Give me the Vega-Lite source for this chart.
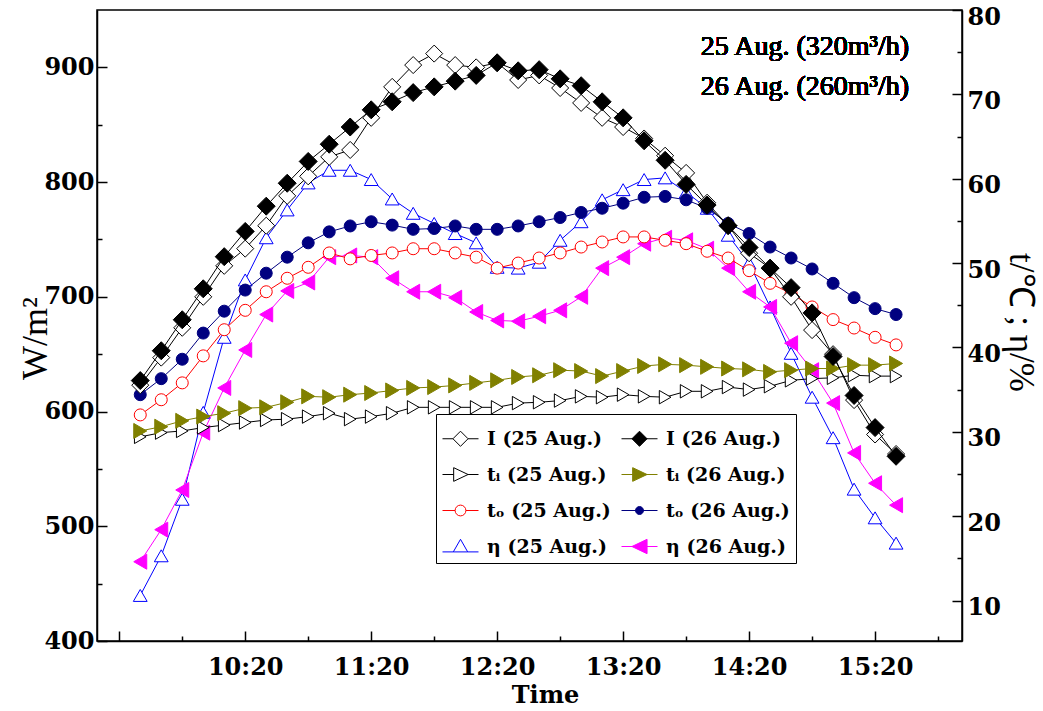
{
  "$schema": "https://vega.github.io/schema/vega-lite/v6.json",
  "autosize": {"type": "none"},
  "padding": {"left": 97, "top": 10, "right": 81, "bottom": 70},
  "width": 865,
  "height": 631,
  "background": "white",
  "config": {
    "view": {"stroke": "black", "strokeWidth": 1.5},
    "axis": {"grid": false, "domainColor": "black", "domainWidth": 1.5, "tickColor": "black", "tickWidth": 1.5, "labelColor": "black", "titleColor": "black", "labelFont": "DejaVu Serif", "labelFontWeight": "bold", "labelFontSize": 24, "labelFlush": false, "labelOverlap": false, "labelBound": false}
  },
  "datasets": {
    "main": [
      {"t":570,"I25":623,"I26":627,"ti25":29.4,"ti26":30.1,"to25":32.0,"to26":34.4,"e25":10.6,"e26":14.6},
      {"t":580,"I25":647,"I26":653,"ti25":29.9,"ti26":30.6,"to25":33.8,"to26":36.3,"e25":15.3,"e26":18.4},
      {"t":590,"I25":673,"I26":680,"ti25":30.1,"ti26":31.3,"to25":35.8,"to26":38.6,"e25":22.0,"e26":23.1},
      {"t":600,"I25":700,"I26":707,"ti25":30.5,"ti26":31.8,"to25":39.0,"to26":41.7,"e25":32.3,"e26":29.9},
      {"t":610,"I25":727,"I26":735,"ti25":30.8,"ti26":32.2,"to25":42.1,"to26":44.3,"e25":41.2,"e26":35.2},
      {"t":620,"I25":742,"I26":757,"ti25":31.1,"ti26":32.8,"to25":44.4,"to26":46.8,"e25":48.0,"e26":39.7},
      {"t":630,"I25":762,"I26":779,"ti25":31.4,"ti26":32.9,"to25":46.6,"to26":48.8,"e25":53.0,"e26":43.9},
      {"t":640,"I25":788,"I26":799,"ti25":31.5,"ti26":33.5,"to25":48.2,"to26":50.7,"e25":56.3,"e26":46.7},
      {"t":650,"I25":805,"I26":818,"ti25":31.8,"ti26":34.2,"to25":49.5,"to26":52.4,"e25":59.5,"e26":47.7},
      {"t":660,"I25":822,"I26":833,"ti25":32.2,"ti26":34.1,"to25":51.2,"to26":53.7,"e25":61.0,"e26":50.7},
      {"t":670,"I25":828,"I26":848,"ti25":31.5,"ti26":34.4,"to25":50.5,"to26":54.4,"e25":61.0,"e26":50.9},
      {"t":680,"I25":856,"I26":863,"ti25":31.8,"ti26":34.6,"to25":50.9,"to26":54.9,"e25":59.9,"e26":50.7},
      {"t":690,"I25":883,"I26":870,"ti25":32.2,"ti26":34.9,"to25":51.2,"to26":54.5,"e25":57.6,"e26":48.2},
      {"t":700,"I25":902,"I26":878,"ti25":32.9,"ti26":35.2,"to25":51.7,"to26":54.0,"e25":55.9,"e26":46.6},
      {"t":710,"I25":912,"I26":883,"ti25":32.9,"ti26":35.3,"to25":51.7,"to26":54.1,"e25":54.7,"e26":46.6},
      {"t":720,"I25":902,"I26":888,"ti25":32.9,"ti26":35.5,"to25":51.2,"to26":54.4,"e25":53.5,"e26":45.9},
      {"t":730,"I25":900,"I26":893,"ti25":32.9,"ti26":35.8,"to25":50.7,"to26":54.0,"e25":52.4,"e26":44.2},
      {"t":740,"I25":904,"I26":904,"ti25":32.9,"ti26":36.1,"to25":49.4,"to26":54.0,"e25":49.5,"e26":43.2},
      {"t":750,"I25":889,"I26":897,"ti25":33.4,"ti26":36.5,"to25":50.0,"to26":54.4,"e25":49.4,"e26":43.1},
      {"t":760,"I25":893,"I26":898,"ti25":33.5,"ti26":36.7,"to25":50.6,"to26":54.9,"e25":50.1,"e26":43.7},
      {"t":770,"I25":882,"I26":890,"ti25":33.7,"ti26":37.3,"to25":51.2,"to26":55.4,"e25":52.7,"e26":44.4},
      {"t":780,"I25":869,"I26":884,"ti25":34.2,"ti26":37.2,"to25":51.9,"to26":56.0,"e25":54.9,"e26":46.0},
      {"t":790,"I25":856,"I26":870,"ti25":34.1,"ti26":36.6,"to25":52.5,"to26":56.5,"e25":57.5,"e26":49.4},
      {"t":800,"I25":848,"I26":856,"ti25":34.4,"ti26":37.2,"to25":53.1,"to26":57.1,"e25":58.7,"e26":50.7},
      {"t":810,"I25":838,"I26":836,"ti25":34.2,"ti26":37.8,"to25":53.1,"to26":57.8,"e25":59.9,"e26":52.3},
      {"t":820,"I25":823,"I26":819,"ti25":34.1,"ti26":38.0,"to25":52.7,"to26":57.9,"e25":60.1,"e26":53.0},
      {"t":830,"I25":808,"I26":798,"ti25":34.8,"ti26":37.9,"to25":52.3,"to26":57.5,"e25":58.4,"e26":52.7},
      {"t":840,"I25":782,"I26":780,"ti25":34.8,"ti26":37.7,"to25":51.4,"to26":56.5,"e25":56.5,"e26":51.7},
      {"t":850,"I25":762,"I26":762,"ti25":35.3,"ti26":37.5,"to25":50.6,"to26":54.7,"e25":53.3,"e26":49.4},
      {"t":860,"I25":738,"I26":743,"ti25":35.0,"ti26":37.4,"to25":49.1,"to26":53.5,"e25":50.0,"e26":46.6},
      {"t":870,"I25":725,"I26":725,"ti25":35.4,"ti26":37.1,"to25":47.6,"to26":51.9,"e25":44.8,"e26":44.8},
      {"t":880,"I25":700,"I26":708,"ti25":36.1,"ti26":37.3,"to25":46.4,"to26":50.6,"e25":39.3,"e26":40.5},
      {"t":890,"I25":671,"I26":686,"ti25":36.3,"ti26":37.5,"to25":44.8,"to26":49.3,"e25":34.1,"e26":37.3},
      {"t":900,"I25":650,"I26":648,"ti25":36.4,"ti26":37.5,"to25":43.3,"to26":47.6,"e25":29.3,"e26":33.4},
      {"t":910,"I25":610,"I26":614,"ti25":36.7,"ti26":37.9,"to25":42.3,"to26":45.9,"e25":23.2,"e26":27.5},
      {"t":920,"I25":580,"I26":586,"ti25":36.6,"ti26":37.9,"to25":41.2,"to26":44.6,"e25":19.8,"e26":23.9},
      {"t":930,"I25":563,"I26":561,"ti25":36.6,"ti26":38.1,"to25":40.3,"to26":43.9,"e25":16.8,"e26":21.3}
    ],
    "leg": [
      {"s":"I (25 Aug.)"},{"s":"I (26 Aug.)"},{"s":"tᵢ (25 Aug.)"},{"s":"tᵢ (26 Aug.)"},
      {"s":"tₒ (25 Aug.)"},{"s":"tₒ (26 Aug.)"},{"s":"η (25 Aug.)"},{"s":"η (26 Aug.)"}
    ]
  },
  "data": {"name": "main"},
  "resolve": {"scale": {"y": "independent"}, "axis": {"x": "independent", "y": "independent"}},
  "layer": [
    {
      "mark": {"type": "line", "color": "#0000ff", "strokeWidth": 1, "point": {"shape": "triangle-up", "size": 190, "filled": true, "fill": "white", "stroke": "#0000ff", "strokeWidth": 1, "opacity": 1}},
      "encoding": {
        "x": {"field": "t", "type": "quantitative", "scale": {"domain": [549.4, 961.4], "nice": false, "zero": false},
          "axis": {"orient": "bottom", "values": [560, 620, 680, 740, 800, 860, 920], "labelExpr": "datum.value == 560 ? '' : floor(datum.value/60) + ':' + (datum.value % 60 < 10 ? '0' : '') + (datum.value % 60)", "tickSize": -10, "labelPadding": 24, "title": "Time", "titleFont": "DejaVu Serif", "titleFontWeight": "bold", "titleFontSize": 24, "titleX": 448, "titleY": 54, "titleBaseline": "middle", "titleAlign": "center"}},
        "y": {"field": "e25", "type": "quantitative", "scale": {"domain": [5.2, 80], "nice": false, "zero": false}, "axis": null}
      }
    },
    {
      "mark": {"type": "line", "color": "#ff00ff", "strokeWidth": 1, "point": {"shape": "triangle-left", "size": 225, "filled": true, "fill": "#ff00ff", "stroke": "#ff00ff", "strokeWidth": 1, "opacity": 1}},
      "encoding": {
        "x": {"field": "t", "type": "quantitative", "scale": {"domain": [549.4, 961.4], "nice": false, "zero": false},
          "axis": {"orient": "bottom", "values": [590, 650, 710, 770, 830, 890, 950], "labels": false, "domain": false, "tickSize": -5, "title": null}},
        "y": {"field": "e26", "type": "quantitative", "scale": {"domain": [5.2, 80], "nice": false, "zero": false}, "axis": null}
      }
    },
    {
      "mark": {"type": "line", "color": "black", "strokeWidth": 1, "point": {"shape": "triangle-right", "size": 180, "filled": true, "fill": "white", "stroke": "black", "strokeWidth": 1, "opacity": 1}},
      "encoding": {
        "x": {"field": "t", "type": "quantitative", "scale": {"domain": [549.4, 961.4], "nice": false, "zero": false}, "axis": null},
        "y": {"field": "ti25", "type": "quantitative", "scale": {"domain": [5.2, 80], "nice": false, "zero": false},
          "axis": {"orient": "right", "values": [10, 20, 30, 40, 50, 60, 70, 80], "tickSize": -10, "labelPadding": 15, "labelOffset": 7, "title": "t/℃ ; η/%", "titleFont": "Liberation Serif", "titleFontWeight": "normal", "titleFontSize": 35, "titleAngle": 90, "titleX": 58, "titleY": 312, "titleBaseline": "middle", "titleAlign": "center"}}
      }
    },
    {
      "mark": {"type": "line", "color": "#808000", "strokeWidth": 1, "point": {"shape": "triangle-right", "size": 225, "filled": true, "fill": "#808000", "stroke": "#808000", "strokeWidth": 1, "opacity": 1}},
      "encoding": {
        "x": {"field": "t", "type": "quantitative", "scale": {"domain": [549.4, 961.4], "nice": false, "zero": false}, "axis": null},
        "y": {"field": "ti26", "type": "quantitative", "scale": {"domain": [5.2, 80], "nice": false, "zero": false},
          "axis": {"orient": "right", "values": [15, 25, 35, 45, 55, 65, 75], "labels": false, "domain": false, "tickSize": -5, "title": null}}
      }
    },
    {
      "mark": {"type": "line", "color": "#ff0000", "strokeWidth": 1, "point": {"shape": "circle", "size": 144, "filled": true, "fill": "white", "stroke": "#ff0000", "strokeWidth": 1, "opacity": 1}},
      "encoding": {
        "x": {"field": "t", "type": "quantitative", "scale": {"domain": [549.4, 961.4], "nice": false, "zero": false}, "axis": null},
        "y": {"field": "to25", "type": "quantitative", "scale": {"domain": [5.2, 80], "nice": false, "zero": false}, "axis": null}
      }
    },
    {
      "mark": {"type": "line", "color": "#000080", "strokeWidth": 1, "point": {"shape": "circle", "size": 144, "filled": true, "fill": "#000080", "stroke": "#000080", "strokeWidth": 1, "opacity": 1}},
      "encoding": {
        "x": {"field": "t", "type": "quantitative", "scale": {"domain": [549.4, 961.4], "nice": false, "zero": false}, "axis": null},
        "y": {"field": "to26", "type": "quantitative", "scale": {"domain": [5.2, 80], "nice": false, "zero": false}, "axis": null}
      }
    },
    {
      "mark": {"type": "line", "color": "black", "strokeWidth": 1, "point": {"shape": "diamond", "size": 290, "filled": true, "fill": "white", "stroke": "black", "strokeWidth": 1, "opacity": 1}},
      "encoding": {
        "x": {"field": "t", "type": "quantitative", "scale": {"domain": [549.4, 961.4], "nice": false, "zero": false}, "axis": null},
        "y": {"field": "I25", "type": "quantitative", "scale": {"domain": [400, 950], "nice": false, "zero": false},
          "axis": {"orient": "left", "values": [400, 500, 600, 700, 800, 900], "tickSize": -10, "labelPadding": 13, "title": "W/m²", "titleFont": "Liberation Serif", "titleFontWeight": "normal", "titleFontSize": 36, "titleAngle": -90, "titleX": -62, "titleY": 328, "titleBaseline": "middle", "titleAlign": "center"}}
      }
    },
    {
      "mark": {"type": "line", "color": "black", "strokeWidth": 1, "point": {"shape": "diamond", "size": 324, "filled": true, "fill": "black", "stroke": "black", "strokeWidth": 1, "opacity": 1}},
      "encoding": {
        "x": {"field": "t", "type": "quantitative", "scale": {"domain": [549.4, 961.4], "nice": false, "zero": false}, "axis": null},
        "y": {"field": "I26", "type": "quantitative", "scale": {"domain": [400, 950], "nice": false, "zero": false},
          "axis": {"orient": "left", "values": [450, 550, 650, 750, 850], "labels": false, "domain": false, "tickSize": -5, "title": null}}
      }
    },
    {
      "mark": {"type": "text", "text": "25 Aug. (320m³/h)", "font": "Liberation Serif", "fontSize": 28, "fontWeight": "normal", "color": "black", "align": "center", "baseline": "middle"},
      "encoding": {
        "x": {"datum": 886.6, "type": "quantitative", "scale": {"domain": [549.4, 961.4], "nice": false, "zero": false}, "axis": null},
        "y": {"datum": 917.7, "type": "quantitative", "scale": {"domain": [400, 950], "nice": false, "zero": false}, "axis": null}
      }
    },
    {
      "mark": {"type": "text", "text": "26 Aug. (260m³/h)", "font": "Liberation Serif", "fontSize": 28, "fontWeight": "normal", "color": "black", "align": "center", "baseline": "middle"},
      "encoding": {
        "x": {"datum": 886.6, "type": "quantitative", "scale": {"domain": [549.4, 961.4], "nice": false, "zero": false}, "axis": null},
        "y": {"datum": 882.9, "type": "quantitative", "scale": {"domain": [400, 950], "nice": false, "zero": false}, "axis": null}
      }
    },
    {
      "data": {"name": "leg"},
      "transform": [{"filter": "false"}],
      "mark": {"type": "point", "filled": true, "opacity": 1},
      "encoding": {
        "shape": {"field": "s", "type": "nominal",
          "scale": {"domain": ["I (25 Aug.)", "tᵢ (25 Aug.)", "tₒ (25 Aug.)", "η (25 Aug.)", "I (26 Aug.)", "tᵢ (26 Aug.)", "tₒ (26 Aug.)", "η (26 Aug.)"],
            "range": ["M-1,0H-0.42M0.42,0H1M0,-0.42L0.42,0L0,0.42L-0.42,0Z", "M-1,0H-0.38M0.42,0H1M-0.38,-0.38L0.42,0L-0.38,0.38Z", "M-1,0H-0.3M0.3,0H1M0.3,0A0.3,0.3,0,1,1,-0.3,0A0.3,0.3,0,1,1,0.3,0Z", "M-1,0.3H-0.4M0.4,0.3H1M0,-0.4L0.4,0.3L-0.4,0.3Z", "M-1,0H1M0,-0.42L0.42,0L0,0.42L-0.42,0Z", "M-1,0H1M-0.38,-0.38L0.42,0L-0.38,0.38Z", "M-1,0H1M0.22,0A0.22,0.22,0,1,1,-0.22,0A0.22,0.22,0,1,1,0.22,0Z", "M-1,0H1M-0.42,0L0.42,-0.4L0.42,0.4Z"]},
          "legend": {"orient": "none", "legendX": 339, "legendY": 404, "columns": 2, "title": null, "symbolSize": 1296, "symbolStrokeWidth": 1, "labelFont": "DejaVu Serif", "labelFontWeight": "bold", "labelFontSize": 19, "labelColor": "black", "labelOffset": 8, "labelLimit": 400, "rowPadding": 7, "columnPadding": 8, "padding": 6, "strokeColor": "black", "fillColor": "white"}},
        "fill": {"field": "s", "type": "nominal",
          "scale": {"domain": ["I (25 Aug.)", "tᵢ (25 Aug.)", "tₒ (25 Aug.)", "η (25 Aug.)", "I (26 Aug.)", "tᵢ (26 Aug.)", "tₒ (26 Aug.)", "η (26 Aug.)"],
            "range": ["white", "white", "white", "white", "black", "#808000", "#000080", "#ff00ff"]},
          "legend": {"orient": "none", "legendX": 339, "legendY": 404, "columns": 2, "title": null, "symbolSize": 1296, "symbolStrokeWidth": 1, "labelFont": "DejaVu Serif", "labelFontWeight": "bold", "labelFontSize": 19, "labelColor": "black", "labelOffset": 8, "labelLimit": 400, "rowPadding": 7, "columnPadding": 8, "padding": 6, "strokeColor": "black", "fillColor": "white"}},
        "stroke": {"field": "s", "type": "nominal",
          "scale": {"domain": ["I (25 Aug.)", "tᵢ (25 Aug.)", "tₒ (25 Aug.)", "η (25 Aug.)", "I (26 Aug.)", "tᵢ (26 Aug.)", "tₒ (26 Aug.)", "η (26 Aug.)"],
            "range": ["black", "black", "#ff0000", "#0000ff", "black", "#808000", "#000080", "#ff00ff"]},
          "legend": {"orient": "none", "legendX": 339, "legendY": 404, "columns": 2, "title": null, "symbolSize": 1296, "symbolStrokeWidth": 1, "labelFont": "DejaVu Serif", "labelFontWeight": "bold", "labelFontSize": 19, "labelColor": "black", "labelOffset": 8, "labelLimit": 400, "rowPadding": 7, "columnPadding": 8, "padding": 6, "strokeColor": "black", "fillColor": "white"}}
      }
    }
  ]
}
